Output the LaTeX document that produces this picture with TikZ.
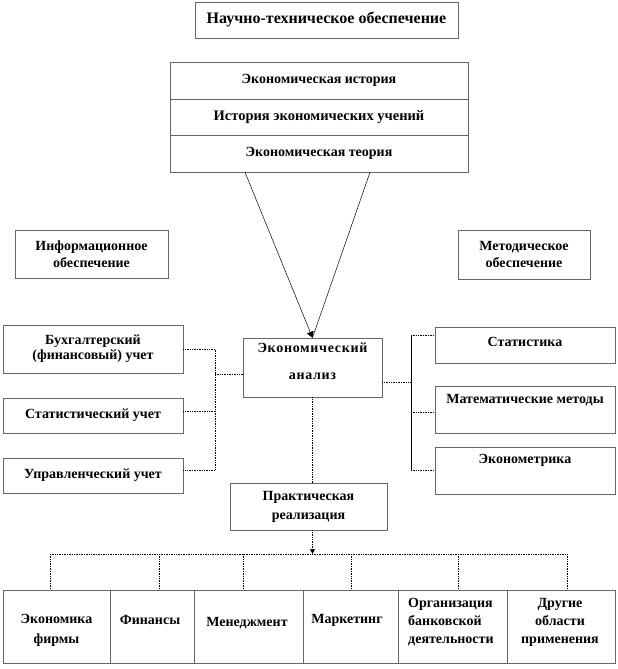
\documentclass[tikz,border=0pt]{standalone}
\usepackage{fontspec}
\setmainfont{Liberation Serif}
\newfontfamily\spacedfont[LetterSpace=5]{Liberation Serif}
\usetikzlibrary{shadows,arrows.meta,calc}
\begin{document}
\begin{tikzpicture}[x=1pt,y=-1pt,
  box/.style={draw=black!60, line width=0.6pt, fill=white, inner sep=0pt,
    drop shadow={shadow xshift=1.2pt, shadow yshift=-1.2pt, opacity=1, fill=black}},
  txt/.style={font=\bfseries\fontsize{14}{15}\selectfont, align=center, inner sep=0pt},
  conn/.style={densely dotted, line width=0.7pt},
  sline/.style={line width=0.5pt},
  tip/.style={-{Triangle[length=6pt,width=7pt]}}]
\useasboundingbox (0,0) rectangle (618,669);
% top
\node[box, txt, minimum width=263pt, minimum height=36pt, font=\bfseries\fontsize{16}{18}\selectfont] (nto) at (326.5,20) {Научно-техническое обеспечение};
\node[box, txt, minimum width=298pt, minimum height=37pt] (s1) at (319,80.5) {Экономическая история};
\node[box, txt, minimum width=298pt, minimum height=36pt, font=\bfseries\fontsize{14.5}{15}\selectfont] (s2) at (319,117) {История  экономических учений};
\node[box, txt, minimum width=298pt, minimum height=37pt] (s3) at (319,153.5) {Экономическая теория};
% side headers
\node[box, txt, minimum width=153pt, minimum height=48pt, font=\bfseries\fontsize{14}{17}\selectfont] (info) at (91.5,254) {Информационное\\обеспечение};
\node[box, txt, minimum width=132pt, minimum height=49pt, font=\bfseries\fontsize{14}{17}\selectfont] (metod) at (524,254.5) {Методическое\\обеспечение};
% left column
\node[box, txt, minimum width=180pt, minimum height=48pt] (buh) at (93,349) {Бухгалтерский\\(финансовый)  учет};
\node[box, txt, minimum width=180pt, minimum height=35pt] (stat) at (93,415.5) {Статистический учет};
\node[box, txt, minimum width=180pt, minimum height=35pt] (upr) at (93,475.5) {Управленческий учет};
% centre
\node[box, minimum width=139pt, minimum height=59pt] (ea) at (312.5,367.5) {};
\node[txt, font=\spacedfont\bfseries\fontsize{14}{27}\selectfont] (eat) at (312.5,361.5) {Экономический\\анализ};
\node[box, txt, minimum width=157pt, minimum height=47pt, font=\bfseries\fontsize{14}{19}\selectfont] (pr) at (308.5,506.5) {Практическая\\реализация};
% right column
\node[box, minimum width=180pt, minimum height=36pt] (stk) at (525,345) {};
\node[txt] (stkt) at (525,342) {Статистика};
\node[box, minimum width=180pt, minimum height=47pt] (mm) at (525,409.5) {};
\node[txt] (mmt) at (525,400) {Математические методы};
\node[box, minimum width=180pt, minimum height=47pt] (ekm) at (525,470.5) {};
\node[txt] (ekmt) at (525,460) {Эконометрика};
% bottom row
\node[box, minimum width=107pt, minimum height=73pt] (b1) at (56.5,626.5) {};
\node[box, minimum width=84pt, minimum height=73pt] (b2) at (152,626.5) {};
\node[box, minimum width=109pt, minimum height=73pt] (b3) at (248.5,626.5) {};
\node[box, minimum width=95pt, minimum height=73pt] (b4) at (350.5,626.5) {};
\node[box, minimum width=109pt, minimum height=73pt] (b5) at (452.5,626.5) {};
\node[box, minimum width=108pt, minimum height=73pt] (b6) at (561,626.5) {};
\node[txt, font=\bfseries\fontsize{14}{20}\selectfont] (t1) at (56.5,630) {Экономика\\фирмы};
\node[txt] (t2) at (150,620) {Финансы};
\node[txt] (t3) at (247,623) {Менеджмент};
\node[txt] (t4) at (347,620) {Маркетинг};
\node[txt, align=left, anchor=west, font=\bfseries\fontsize{14}{18}\selectfont] (t5) at (408,622) {Организация\\банковской\\деятельности};
\node[txt, font=\bfseries\fontsize{14}{18}\selectfont] (t6) at (560,622) {Другие\\области\\применения};
% top converging lines
\coordinate (cl) at ([xshift=-74pt]s3.south);
\coordinate (cr) at ([xshift=51pt]s3.south);
\draw[sline, tip] (cl) -- (ea.north);
\draw[sline] (cr) -- (ea.north);
% left bracket
\coordinate (lx) at (215,0);
\coordinate (ls) at ([yshift=4.5pt]stat.east);
\coordinate (lu) at ([yshift=5.5pt]upr.east);
\coordinate (ew) at ([yshift=-6.5pt]ea.west);
\draw[conn] (buh.east) -- (buh.east -| lx) -- (lu -| lx) -- (lu);
\draw[conn] (ls) -- (ls -| lx);
\draw[conn] (ew -| lx) -- (ew);
% right bracket
\coordinate (rx) at (411,0);
\coordinate (er) at ([yshift=-14.5pt]ea.east);
\coordinate (rs) at ([yshift=10pt]stk.west);
\coordinate (rm) at ([yshift=-2.5pt]mm.west);
\coordinate (re) at (ekm.west);
\draw[sline] (rs -| rx) -- (re -| rx);
\draw[conn] (er) -- (er -| rx);
\draw[conn] (rs -| rx) -- (rs);
\draw[conn] (rm -| rx) -- (rm);
\draw[conn] (re -| rx) -- (re);
% down to practical realisation
\draw[conn] (ea.south) -- (ea.south |- pr.north);
\coordinate (busL) at (50,554);
\coordinate (busR) at (567,554);
\draw[conn, -{Triangle[length=5pt,width=5pt]}] (pr.south -| ea.south) -- (ea.south |- busL);
\draw[conn] (busL) -- (busR);
\coordinate (d1) at (50,554);
\coordinate (d2) at (159,554);
\coordinate (d3) at (243,554);
\coordinate (d4) at (351,554);
\coordinate (d5) at (458,554);
\coordinate (d6) at (567,554);
\draw[conn] (d1) -- (d1 |- b1.north);
\draw[conn] (d2) -- (d2 |- b2.north);
\draw[conn] (d3) -- (d3 |- b3.north);
\draw[conn] (d4) -- (d4 |- b4.north);
\draw[conn] (d5) -- (d5 |- b5.north);
\draw[conn] (d6) -- (d6 |- b6.north);
\end{tikzpicture}
\end{document}
